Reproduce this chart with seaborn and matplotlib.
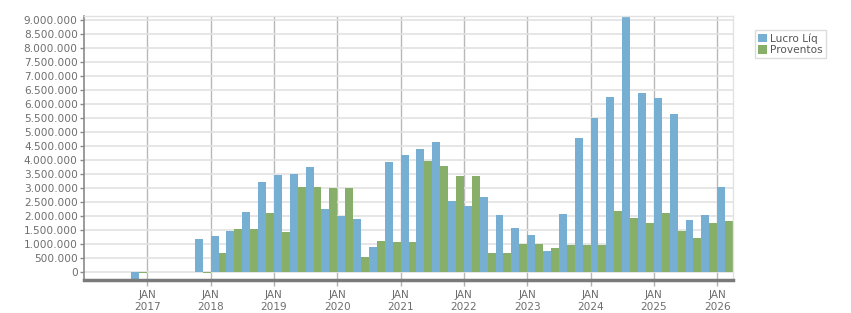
import pandas as pd
import matplotlib
matplotlib.use("Agg")
import matplotlib.pyplot as plt
import matplotlib.ticker as ticker
import seaborn as sns

# trimestres com dados (o eixo vai de 1T16 a 1T26)
trimestres = ["4T16", "4T17",
              "1T18", "2T18", "3T18", "4T18",
              "1T19", "2T19", "3T19", "4T19",
              "1T20", "2T20", "3T20", "4T20",
              "1T21", "2T21", "3T21", "4T21",
              "1T22", "2T22", "3T22", "4T22",
              "1T23", "2T23", "3T23", "4T23",
              "1T24", "2T24", "3T24", "4T24",
              "1T25", "2T25", "3T25", "4T25",
              "1T26"]
lucro_liq = [-300000, 1190000,
             1300000, 1490000, 2150000, 3220000,
             3490000, 3520000, 3760000, 2260000,
             2010000, 1900000, 900000, 3940000,
             4190000, 4400000, 4650000, 2550000,
             2370000, 2690000, 2050000, 1580000,
             1330000, 760000, 2080000, 4790000,
             5510000, 6260000, 9150000, 6400000,
             6220000, 5650000, 1870000, 2050000,
             3040000]
proventos = [-15000, -20000,
             690000, 1550000, 1550000, 2120000,
             1440000, 3040000, 3040000, 3010000,
             3010000, 550000, 1120000, 1080000,
             1080000, 3970000, 3800000, 3440000,
             3440000, 690000, 690000, 1010000,
             1010000, 870000, 970000, 970000,
             970000, 2190000, 1940000, 1760000,
             2120000, 1470000, 1220000, 1760000,
             1830000]
anos = list(range(2017, 2027))
series = ["Lucro Líq", "Proventos"]
cores = {"Lucro Líq": "#77afd2", "Proventos": "#87af6a"}

# todos os trimestres do eixo, na ordem
ordem = [f"{q}T{a % 100:02d}" for a in range(2016, 2026) for q in range(1, 5)] + ["1T26"]

df = pd.DataFrame({
    "trimestre": trimestres * 2,
    "serie": [series[0]] * len(trimestres) + [series[1]] * len(trimestres),
    "valor": lucro_liq + proventos,
})

sns.set_style("white")
fig = plt.figure(figsize=(8.51, 3.13), dpi=100)
ax = fig.add_axes([84 / 851, 1 - 280 / 313, (733 - 84) / 851, (280 - 16) / 313])

sns.barplot(data=df, x="trimestre", y="valor", hue="serie", order=ordem,
            hue_order=series, palette=cores, width=1.0, saturation=1,
            linewidth=0, ax=ax)

ax.set_xlim(-0.5, len(ordem) - 0.5)
ax.set_ylim(-275000, 9150000)

# marcas de janeiro entre 4T e 1T
ax.set_xticks([(a - 2016) * 4 - 0.5 for a in anos])
ax.set_xticklabels([f"JAN\n{a}" for a in anos], linespacing=1.25)
ax.yaxis.set_major_locator(ticker.MultipleLocator(500000))
ax.yaxis.set_major_formatter(ticker.FuncFormatter(lambda v, p: f"{v:,.0f}".replace(",", ".")))

ax.set_axisbelow(True)
ax.grid(axis="y", color="#e2e2e2", linewidth=1.2)
ax.grid(axis="x", color="#b8b8b8", linewidth=1.0)

for s in ["top", "right"]:
    ax.spines[s].set_color("#e2e2e2")
    ax.spines[s].set_linewidth(1.0)
ax.spines["left"].set_color("#8a8a8a")
ax.spines["left"].set_linewidth(1.2)
ax.spines["bottom"].set_color("#7a7a7a")
ax.spines["bottom"].set_linewidth(2.5)

ax.tick_params(axis="y", labelsize=7.6, colors="#8a8a8a", labelcolor="#6e6e6e",
               length=3, width=1, pad=1.5, left=True)
ax.tick_params(axis="x", labelsize=7.6, colors="#b0b0b0", labelcolor="#6e6e6e",
               length=4, width=1, pad=3.5, bottom=True)
ax.set_xlabel("")
ax.set_ylabel("")

handles, labels = ax.get_legend_handles_labels()
ax.legend(handles, labels, loc="upper left", bbox_to_anchor=(755 / 851, 1 - 30 / 313),
          bbox_transform=fig.transFigure, borderaxespad=0, fontsize=7.6,
          handlelength=0.8, handleheight=0.9, handletextpad=0.3, borderpad=0.3,
          labelspacing=0.15, fancybox=False, framealpha=1, edgecolor="#dcdcdc",
          labelcolor="#555555")

fig.savefig("out.png", dpi=100)
